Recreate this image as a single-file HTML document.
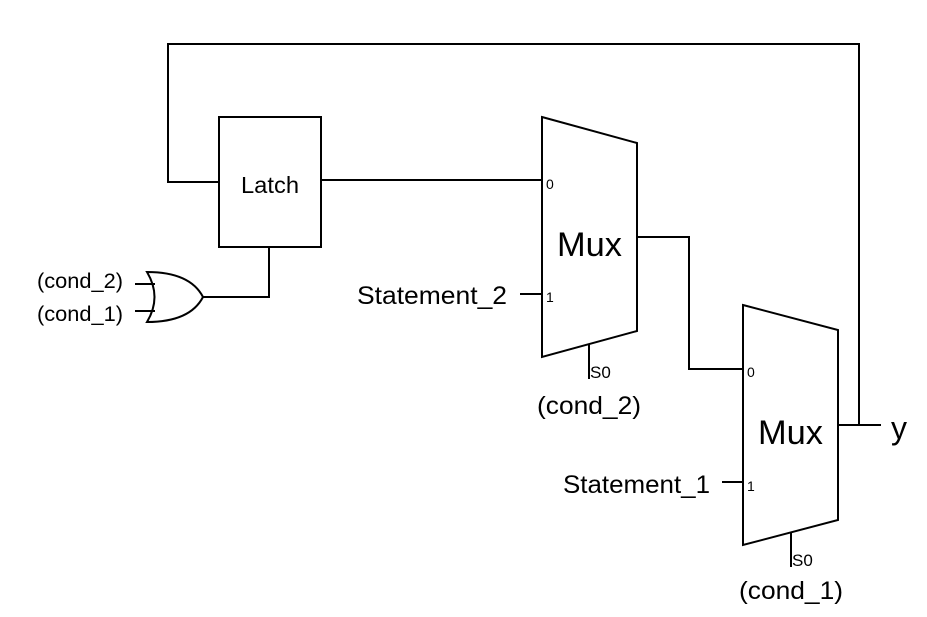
<!DOCTYPE html>
<html><head><style>body{margin:0;background:#fff}svg{display:block}text{font-family:"Liberation Sans",Arial,sans-serif;fill:#000}</style></head><body>
<svg width="927" height="617" viewBox="0 0 927 617" xmlns="http://www.w3.org/2000/svg">
<g fill="none" stroke="#000" stroke-width="2">
<polyline points="859,425 859,44 168,44 168,182 219,182"/>
<rect x="219" y="117" width="102" height="130"/>
<line x1="321" y1="180" x2="542" y2="180"/>
<polyline points="269,247 269,297 203,297"/>
<path d="M147,272 Q190,272 203,297 Q190,322 147,322 Q162,297 147,272 Z"/>
<line x1="135" y1="284" x2="155" y2="284"/>
<line x1="135" y1="311" x2="155" y2="311"/>
<polygon points="542,117 637,143 637,331 542,357"/>
<line x1="520" y1="294" x2="542" y2="294"/>
<line x1="589" y1="344" x2="589" y2="379"/>
<polyline points="637,237 689,237 689,369 743,369"/>
<polygon points="743,305 838,330 838,520 743,545"/>
<line x1="722" y1="482" x2="743" y2="482"/>
<line x1="791" y1="533" x2="791" y2="567"/>
<line x1="838" y1="425" x2="881" y2="425"/>
</g>
<text x="241" y="193" font-size="23" textLength="58" lengthAdjust="spacingAndGlyphs">Latch</text>
<text x="37" y="288" font-size="21" textLength="86" lengthAdjust="spacingAndGlyphs">(cond_2)</text>
<text x="37" y="321" font-size="21" textLength="86" lengthAdjust="spacingAndGlyphs">(cond_1)</text>
<text x="557" y="256" font-size="34" textLength="65" lengthAdjust="spacingAndGlyphs">Mux</text>
<text x="546" y="189" font-size="14">0</text>
<text x="546" y="302" font-size="14">1</text>
<text x="357" y="304" font-size="25" textLength="150" lengthAdjust="spacingAndGlyphs">Statement_2</text>
<text x="590" y="378" font-size="17">S0</text>
<text x="537" y="414" font-size="25" textLength="104" lengthAdjust="spacingAndGlyphs">(cond_2)</text>
<text x="758" y="444" font-size="34" textLength="65" lengthAdjust="spacingAndGlyphs">Mux</text>
<text x="747" y="377" font-size="14">0</text>
<text x="747" y="491" font-size="14">1</text>
<text x="563" y="493" font-size="25" textLength="147" lengthAdjust="spacingAndGlyphs">Statement_1</text>
<text x="792" y="566" font-size="17">S0</text>
<text x="739" y="599" font-size="25" textLength="104" lengthAdjust="spacingAndGlyphs">(cond_1)</text>
<text x="891" y="439" font-size="32">y</text>
</svg>
</body></html>
